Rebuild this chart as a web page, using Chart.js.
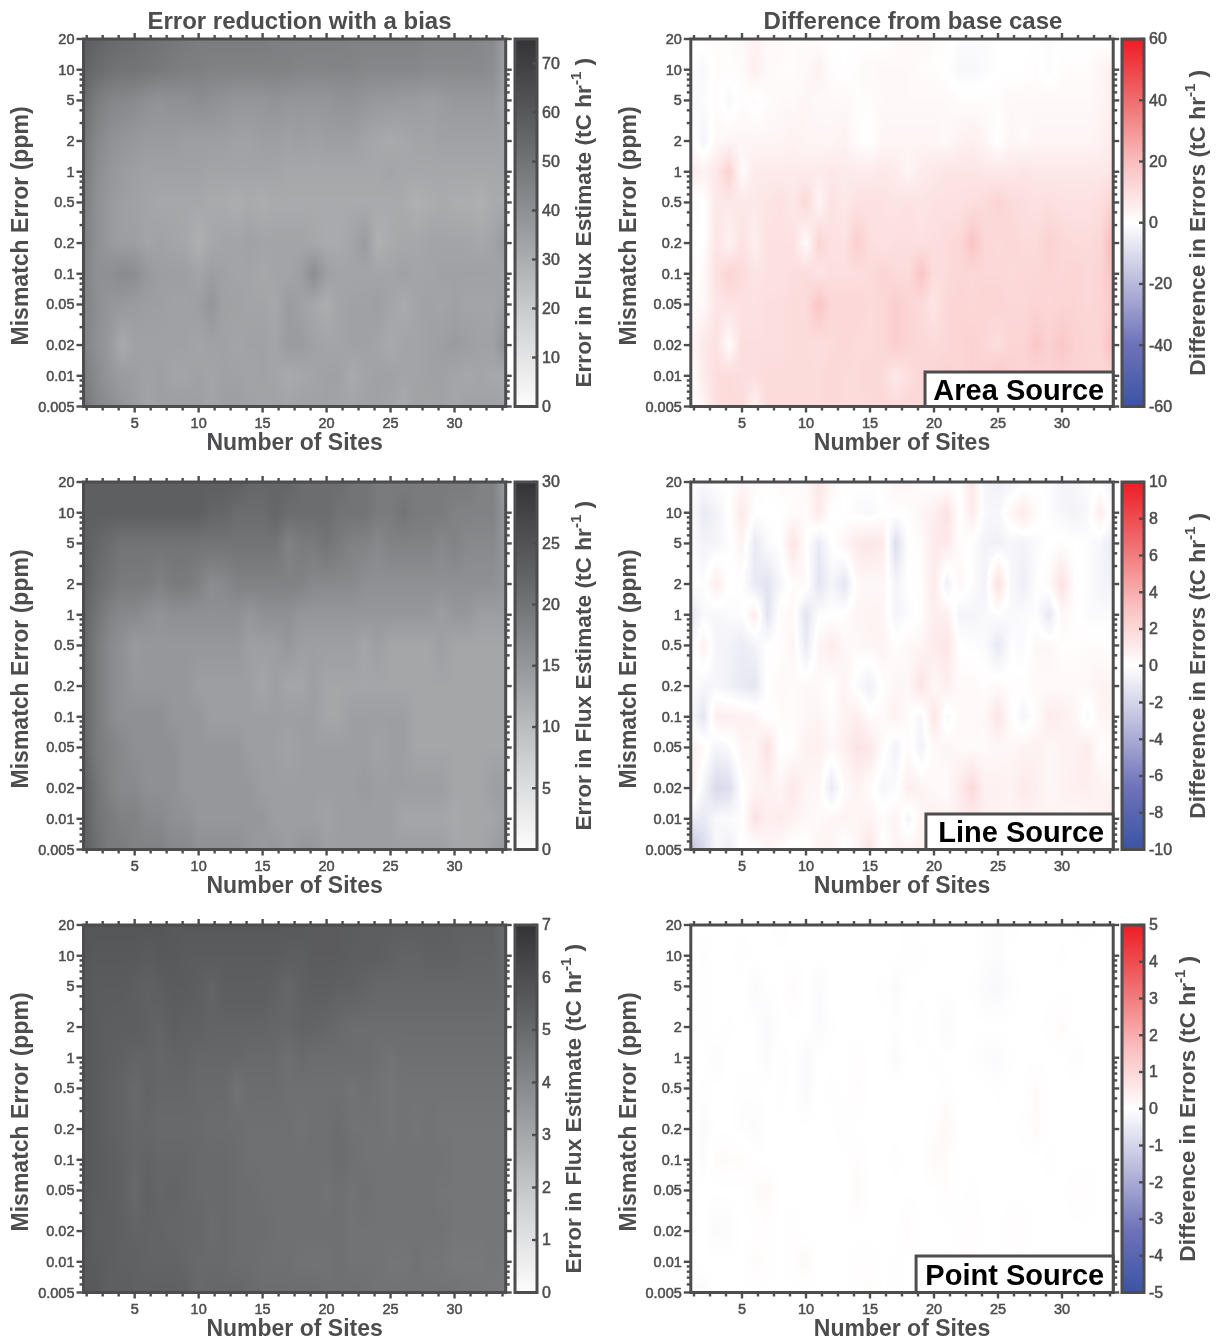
<!DOCTYPE html>
<html><head><meta charset="utf-8">
<style>html,body{margin:0;padding:0;background:#fff}#wrap{position:relative;width:1220px;height:1343px;overflow:hidden}canvas{position:absolute;display:block}</style>
<script src="https://cdn.jsdelivr.net/npm/chart.js@4"></script>
</head><body><div id="wrap"></div>
<script>
// ---- axes -------------------------------------------------------------
const sites = [1,2,3,4,5,6,7,8,9,10,11,12,13,14,15,16,17,18,19,20,21,22,23,24,25,26,27,28,29,30,31,32,33,34];
const mismatch = [20,10,5,2,1,0.5,0.2,0.1,0.05,0.02,0.01,0.005];
const xMajorTicks = [5,10,15,20,25,30];
const xMinorTicks = [1.25,2.5,3.75,6.25,7.5,8.75,11.25,12.5,13.75,16.25,17.5,18.75,21.25,22.5,23.75,26.25,27.5,28.75,31.25,32.5,33.75];
const yMinorTicks = [0.006,0.007,0.008,0.009,0.03,0.04,0.06,0.07,0.08,0.09,0.3,0.4,0.6,0.7,0.8,0.9,3,4,6,7,8,9];
const areaErrorTicks = [0,10,20,30,40,50,60,70];
const lineErrorTicks = [0,5,10,15,20,25,30];
const pointErrorTicks = [0,1,2,3,4,5,6,7];
const areaDiffTicks = [-60,-40,-20,0,20,40,60];
const lineDiffTicks = [-10,-8,-6,-4,-2,0,2,4,6,8,10];
const pointDiffTicks = [-5,-4,-3,-2,-1,0,1,2,3,4,5];

// ---- values, one row per mismatch error from 20 down to 0.005 -----------
const areaError = [
[58,56,54,53,52,51,50,49,48,47,47,47,47,47,47,46,46,46,46,46,46,45,45,45,45,45,45,44,44,44,44,43,42,34],
[56,53,51,50,50,49,48,47,46,46,45,45,45,45,45,45,45,44,44,44,44,44,43,43,43,43,43,42,42,42,42,42,41,34],
[53,47,44,43,42,40,39,40,40,41,40,39,38,38,38,39,38,38,38,38,39,39,38,37,37,36,36,35,36,37,37,37,37,33],
[49,43,40,38,37,36,36,36,35,35,35,35,34,34,35,35,34,35,34,35,35,35,33,32,31,32,33,33,34,34,34,34,34,33],
[48,41,38,36,35,34,34,34,34,34,33,33,33,33,33,33,32,32,32,32,32,32,32,32,33,32,32,32,32,32,32,32,32,32],
[47,40,37,35,34,33,32,32,32,32,31,31,30,31,30,31,31,31,31,31,31,31,31,31,31,31,29,30,31,30,30,29,31,31],
[46,40,37,35,35,33,34,33,32,29,32,33,33,34,33,33,33,33,32,31,31,33,36,29,31,32,32,33,33,33,33,32,33,37],
[45,40,40,42,41,37,35,35,35,33,35,34,33,33,32,33,33,35,41,35,33,33,33,33,33,34,33,33,34,34,34,34,34,33],
[45,41,38,37,36,35,35,34,34,35,38,34,34,33,33,32,36,34,32,30,33,34,34,35,33,31,33,34,33,34,33,33,33,35],
[45,40,37,31,34,34,34,34,34,33,34,34,33,34,34,33,36,36,34,33,33,34,34,33,31,33,33,34,35,36,35,34,34,40],
[47,42,38,36,35,34,35,33,33,34,33,34,34,33,34,33,31,32,33,34,34,31,33,34,34,33,33,34,34,33,32,33,32,31],
[50,44,41,38,36,33,35,35,35,35,33,35,35,34,33,34,33,34,34,34,33,33,34,34,33,31,34,33,34,32,34,34,34,33]];
const areaDiff = [
[0,1,1,1,2,4,2,2,1,1,1,0,0,0,0,0,1,2,2,1,1,-1,-1,-1,0,0,0,0,-1,0,0,0,0,-1],
[0,-2,1,1,1,5,2,1,1,2,4,1,0,1,2,2,2,2,1,1,0,-2,-2,-1,0,0,0,1,-1,1,1,1,3,5],
[-2,-1,1,-2,1,-1,1,2,2,3,2,2,2,1,1,2,2,2,2,2,2,1,1,1,1,2,2,2,2,2,2,2,3,5],
[1,-3,2,3,3,3,3,3,4,3,3,3,4,1,0,3,3,3,3,3,2,4,5,3,0,3,2,3,3,3,3,3,4,6],
[6,4,7,14,1,6,6,6,6,6,6,7,6,6,6,7,6,3,6,7,8,8,8,7,7,7,8,7,7,7,7,7,7,8],
[-1,0,7,7,7,7,8,9,7,12,3,9,7,9,9,9,8,9,8,9,9,9,10,11,13,11,10,9,10,9,9,9,10,13],
[0,0,8,4,9,5,9,9,9,1,13,9,9,15,10,9,10,10,9,10,11,12,18,12,11,12,11,11,14,12,11,11,12,22],
[-2,2,9,13,11,8,9,9,10,11,8,10,10,10,11,13,11,11,18,10,11,12,12,12,12,11,12,12,13,12,13,12,13,19],
[2,2,8,9,9,9,10,10,11,11,18,12,12,12,11,12,15,13,11,8,12,13,12,13,13,12,12,13,12,13,13,12,13,16],
[2,7,9,1,10,10,10,10,11,11,10,11,12,11,11,12,15,13,12,11,12,13,14,12,10,13,13,17,14,17,14,13,13,20],
[0,6,10,11,10,10,11,11,11,11,11,12,11,11,12,11,7,10,12,13,14,12,14,14,17,14,13,13,13,14,13,13,12,13],
[0,3,10,11,11,4,11,11,11,11,11,12,11,11,11,12,11,12,12,12,12,12,12,12,12,12,12,12,12,12,12,12,12,12]];
const lineError = [
[23,23,23,23,23,23,23,23,23,23,23,23,23,22,22,22,22,21,21,21,21,20,20,19,19,19,19,19,19,19,19,18,18,14],
[23,23,23,23,23,23,23,23,23,23,22,22,21,21,21,22,21,21,21,21,20,20,20,19,19,20,19,19,19,18,18,18,18,15],
[23,22,21,20,20,20,20,20,20,20,20,20,20,20,20,20,18,19,19,20,19,18,18,17,18,18,18,18,17,18,17,17,17,15],
[23,21,20,19,19,19,18,19,19,18,16.5,17,18,18,18,18,18,18,17,17,17,17,16,16,16,16,16,16,16,16,16,16,16,15],
[22,20,18,17,17,16,15.5,16,16,16,16,16,16,15,16,16,16,15,15,15,15,15,15,15,15,15,15,15,14,15,15,14,14,14],
[22,19,17,16,14.5,15,15,15,15,15,15,15,15,14,14,14,15,14,14,14,14,14,13,14,13,13,13,13,14,13,13,13,13,13],
[22,19,17,16,15,15,15,15,15,14,14,14,14,14,13,14,13,13,14,13,13,13,13,13,13,13,13,13,13,13,13,13,13,13],
[22,19,17,16,16,16,16,15,15,15,14,14,14,14,14,14,14,14,14,13,13,14,14,14,14,14,13,13,13,13,13,13,13,13],
[22,19,18,17,16,16,16,16,15,15,15,15,15,14,14,14,13.5,14,14,14,14,14,14,13.5,14,14,13,13,13,13,13,13,13,13],
[23,20,18,17,17,16,16,16,15,15,15,15,15,15,14,14,14,14,14,14,14,14,14.5,14,14,14,14,14,14,13,13,13,14,14],
[23,20,19,18,18,17,17,16,16,15,15,15,15,15,15,14,14,14,14,13.5,14,14,14,14,14,13,13,13,13,12.5,13,13,13,14],
[23,21,19,19,18,18,18,17,17,16,16,16,16,15,14.5,15,14,15,15,14,14,14,14,14,14,14,14,14,14,13,13,13,14,15]];
const lineDiff = [
[0,-0.3,0,0,0.4,0.3,0,0.3,0.2,0.3,1.2,0.5,0,0,0,0.1,0.5,0.5,0.1,0,0,0,1.2,-0.5,-0.7,-0.5,-0.2,0,-0.1,-0.6,-0.4,-0.2,-0.2,-0.7],
[-0.1,-1,-0.6,0,1.1,0,0,0,0.2,0.2,1.1,0,0,-0.2,-0.3,0,0.1,0.1,0.5,0.8,1.5,0,1,-0.3,-0.4,0.4,1.1,0.2,-0.1,-0.4,-0.6,-0.3,0.9,-0.2],
[-0.1,-0.6,-0.5,-0.1,0.6,-1,-0.2,0,1.4,0.1,-1,0,0.5,1.1,1.3,1,-1.6,0,0.2,1.1,1.1,0.2,-0.1,-0.6,-0.7,-0.4,-0.6,-0.2,0,0.1,0,-0.1,-0.4,-1],
[0,-0.1,0.9,0,0,-1,-1.3,-0.4,0.2,0.3,-1.3,-0.5,-1.2,0.3,0.4,0.4,-0.5,0,0.1,1.1,-0.7,0.4,-0.1,-0.6,1.6,-0.3,-0.8,-0.1,0.3,1.5,0.1,-0.1,-0.5,-0.7],
[-1.1,-0.3,-0.4,-0.2,-0.1,0.9,-1.3,0.2,0.3,-1.3,-0.1,0,0.1,0.5,0.6,0.5,-0.5,-0.2,0.1,0.9,0.8,-0.5,-0.5,-0.3,-0.1,-0.3,-0.2,-0.1,-1.1,0.4,0.1,-0.2,-0.2,-0.2],
[-0.4,0.7,-0.5,-0.6,-0.9,-0.6,0,0.1,0.5,-1,0.5,1,0.4,0.3,0.5,0.6,0.1,0.4,0.5,1,1.3,0,-0.1,-0.2,-1.1,-0.1,-0.2,0.4,0.4,0.1,0.1,0.2,0.2,-0.1],
[0,-0.4,-0.4,-0.7,-1,-1.2,0.1,0.3,0.2,0.4,0.3,0,0.6,-0.2,-0.7,0.1,0.5,0.4,1.4,0.4,0.8,0.3,0.3,0.1,0.3,0.1,0.1,0.3,0.3,0.3,0.3,0.4,0.6,0.6],
[-0.4,-1.2,0.9,0.8,0.7,0.6,-0.1,0.2,0.2,0.4,0.5,0.2,0.6,0.9,0.2,0.3,0.7,0.2,-0.4,1.3,-0.3,0.3,0.3,0.4,1.4,0.2,-0.5,0.2,1,0.8,0.5,-0.3,0.5,0.6],
[0.8,0.3,-0.5,-0.2,0.5,0.5,1.5,0,0.1,0.7,0.8,0.4,0.8,1.4,1.2,0.2,-0.6,0.2,-0.6,0.3,0.5,0.3,0.2,0.3,0.4,0.4,0.6,0.7,0.4,0.6,0.7,1,0.1,0.3],
[0.9,-0.5,-1.8,-1.6,0,0.6,0.7,0.5,1.2,0.5,0.4,-1,0.2,0.6,0.2,-0.4,-0.2,0.9,0.6,0.3,0.2,1,1.9,0.7,0.7,0.6,1.1,0.8,0.4,0.6,0.8,0.8,0.6,0.6],
[-0.9,-1,-0.3,-0.2,-0.1,1.5,0.8,1,0.7,0.4,0.3,0.5,0.6,0.5,0.6,0.2,0.6,-0.5,0.5,0.8,0.6,0.9,1,0.8,0.7,0.5,0.7,0.6,0.6,0.5,0.3,0.5,0.7,1],
[-3,-1.8,-0.4,-0.8,0.1,-0.1,0.5,0.2,-0.2,-0.1,0.6,0.5,-0.1,0.5,1.4,-0.1,0.6,0.6,0.7,0.5,0.6,0.5,0.6,0.6,0.6,0.5,0.5,0.5,0.5,0.5,0.5,0.5,0.5,0.5]];
const pointError = [
[5.7,5.7,5.7,5.7,5.7,5.7,5.7,5.6,5.6,5.6,5.6,5.6,5.6,5.6,5.6,5.6,5.6,5.6,5.5,5.5,5.5,5.5,5.4,5.4,5.4,5.4,5.4,5.4,5.4,5.3,5.3,5.3,5.3,4.9],
[5.7,5.6,5.6,5.6,5.6,5.5,5.6,5.6,5.5,5.5,5.5,5.5,5.5,5.5,5.5,5.5,5.4,5.4,5.5,5.5,5.5,5.4,5.4,5.4,5.3,5.2,5.2,5.3,5.3,5.3,5.2,5.2,5.2,5],
[5.6,5.5,5.5,5.5,5.4,5.3,5.4,5.5,5.5,5.4,5.2,5.4,5.4,5.4,5.4,5.3,5.1,5.3,5.4,5.4,5.3,5.3,5.2,5.1,5.1,5.1,5.1,5.1,5.1,5.1,5.1,5.1,5.1,5],
[5.6,5.5,5.4,5.4,5.4,5.3,5.2,5.4,5.3,5.3,5.2,5.2,5.2,5.2,5.2,5.1,5.1,5.2,5.2,5.1,5,4.9,4.9,4.9,4.9,4.9,4.9,4.9,4.9,4.9,4.9,4.9,4.9,4.9],
[5.6,5.5,5.4,5.3,5.2,5.2,5.1,5.2,5.2,5.1,5.1,5.1,5.1,5,5,5,4.8,5,4.9,4.9,4.9,4.9,4.9,4.8,4.7,4.8,4.8,4.8,4.8,4.8,4.8,4.8,4.8,4.8],
[5.6,5.5,5.3,5.2,5,5.2,5.1,5.1,5.1,5,5,5,4.7,4.9,4.9,4.9,4.8,4.8,4.8,4.8,4.8,4.7,4.8,4.7,4.6,4.7,4.7,4.7,4.7,4.7,4.7,4.7,4.7,4.7],
[5.6,5.5,5.3,5.2,5.1,5.1,5,5,5,5,4.9,4.9,4.9,4.8,4.8,4.8,4.8,4.7,4.8,4.8,4.9,4.7,4.7,4.7,4.6,4.7,4.6,4.7,4.6,4.6,4.6,4.6,4.6,4.6],
[5.6,5.5,5.4,5.3,5.1,5.2,5.1,5.1,5.1,5,5,5,4.9,4.8,4.8,4.8,4.8,4.8,4.8,4.8,4.9,4.8,4.7,4.7,4.7,4.7,4.7,4.7,4.7,4.6,4.6,4.6,4.6,4.6],
[5.6,5.5,5.4,5.3,5,5.3,5.1,5.2,5.1,5,5,5,4.9,4.9,4.8,4.8,4.8,4.8,4.8,4.7,4.8,4.7,4.8,4.7,4.7,4.7,4.7,4.7,4.6,4.6,4.6,4.6,4.6,4.6],
[5.7,5.4,5.4,5.3,5.2,5.2,5.2,5.1,5.1,5.1,4.9,5,4.9,4.9,4.9,4.8,4.8,4.8,4.8,4.8,4.8,4.7,4.7,4.7,4.7,4.7,4.7,4.7,4.7,4.6,4.6,4.6,4.6,4.6],
[5.6,5.5,5.4,5.3,5.3,5.2,5.2,5.2,5.1,5,5,5,4.9,4.9,4.8,4.8,4.8,4.7,4.7,4.7,4.8,4.7,4.7,4.7,4.6,4.6,4.7,4.6,4.6,4.5,4.5,4.5,4.6,4.5],
[5.6,5.6,5.3,5.4,5.3,5.3,5.3,5.3,5.3,5,5.1,5.1,5.1,5,4.9,4.9,4.9,4.9,4.9,4.8,4.8,4.8,4.8,4.7,4.7,4.7,4.7,4.7,4.7,4.7,4.6,4.6,4.5,4.5]];
const pointDiff = [
[0,0,0,0,0,0,0,-0.05,0,0,0,0,0,0,0,0,0,-0.03,0,0,0,0,0,-0.05,-0.08,-0.04,0,0,0,0,-0.02,-0.03,0,0],
[0,-0.05,0,0,0.05,0,0,0,0,0,0,0,0,0,0,0,0,-0.03,-0.03,0,0,0,0,-0.04,-0.08,0,0,0,0,-0.02,0,0,0,0],
[0,-0.03,0,0,0,-0.1,-0.02,0,0.1,0,-0.1,0,0,0,0,0.03,-0.1,0,0,0,0,0,-0.02,-0.1,-0.15,-0.05,0,0,0,0,0,0,0,-0.03],
[0,-0.03,0,-0.02,0,-0.02,-0.12,-0.02,0,0,-0.1,-0.02,0,0,0,0,-0.03,0,0.05,-0.02,-0.1,0,0,0,0,0,0,0,0.03,0.12,0,0,0,-0.1],
[0,0,-0.07,0,0,0,-0.1,0.05,0,-0.12,0,0,0,0.05,0,0,-0.1,0,0,0.03,0,0,-0.02,-0.07,-0.1,-0.02,0,0,0,0,-0.06,0,0,-0.02],
[0,-0.02,0,0,-0.03,-0.02,0,0.03,0,-0.12,0,0.03,0,0.08,0,0,0,0,0,0,0.03,0,0,0,-0.02,0,0,0.12,0,0,0,0,0,0],
[0,-0.1,0,0,-0.05,-0.08,0,0,0,0,0,0,0.05,0,0,0,0,0,0,0.05,0.2,0,0,0,0,0,0.03,0.12,0,0,0,0,0,0],
[0,-0.08,0.12,0.1,0.1,0,-0.01,0,0,0,0,0,0,0.08,0,0,0.03,0,-0.01,0.15,0.08,0,0,0,0,0,0,0,-0.03,0,0,0,0,0],
[0,0,0,0,0,0.1,0.15,0,0,0,0,0,0,0.15,0,0,0,0,0,0,0.08,0,0.03,0,0,0,0,0,0,0,0.05,0.06,0,0.05],
[0,0,-0.1,-0.08,0,0,0.05,0,0.05,0,0,0,0,0,0,0,-0.01,0.1,0,0,0,0.03,0.05,0,0,0.05,0.06,0,0,0,0,0,0,0.03],
[0,0,0,0,0,0.12,0.05,0,0.05,0.15,0,0,0,0.05,0.05,0,0.03,0,0,0,0,0.06,0.04,0,0,0.03,0.05,0,0,0,0,0,0,0],
[-0.1,-0.08,0,0,0,0,0,0,0,0,0,0,0,0.05,0.08,0,0.05,0,0,0,0,0,0,0,0,0,0,0,0,0,0,0,0,0]];

// ---- colour ramps -------------------------------------------------------
const grayRamp = [[0,[253,253,253]],[0.25,[205,206,208]],[0.5,[150,151,154]],[0.75,[97,98,100]],[1,[52,52,54]]];
const divRamp = [[0,[59,84,164]],[0.17,[110,115,185]],[0.335,[185,185,220]],[0.5,[255,255,255]],[0.665,[250,190,190]],[0.83,[240,110,112]],[1,[237,28,36]]];
function rampAt(ramp,f){
  f=Math.max(0,Math.min(1,f));
  for(let i=1;i<ramp.length;i++){
    if(f<=ramp[i][0]){
      const a=ramp[i-1],b=ramp[i],t=(f-a[0])/(b[0]-a[0]);
      return [0,1,2].map(k=>a[1][k]+(b[1][k]-a[1][k])*t);
    }
  }
  return ramp[ramp.length-1][1];
}
const INK='#4d4d4f';
const FACE='"Liberation Sans",Arial,sans-serif';

// Surface: paints each pixel of the plot from the dataset through the scales.
const surfacePlugin={
  id:'surface',
  beforeDatasetsDraw(chart,args,o){
    const xs=chart.scales.x,ys=chart.scales.y,a=chart.chartArea,ctx=chart.ctx;
    const L=Math.floor(a.left),T=Math.floor(a.top),W=Math.ceil(a.right)-L,H=Math.ceil(a.bottom)-T;
    const off=document.createElement('canvas');off.width=W;off.height=H;
    const oc=off.getContext('2d'),img=oc.createImageData(W,H);
    const rows=o.rows,ly=mismatch.map(Math.log);
    const rowT=[];
    for(let py=0;py<H;py++){
      const v=Math.log(Math.max(0.005,Math.min(20,ys.getValueForPixel(T+py+0.5))));
      let i=0;while(i<ly.length-2&&v<ly[i+1])i++;
      rowT.push([i,(v-ly[i])/(ly[i+1]-ly[i])]);
    }
    for(let px=0;px<W;px++){
      const v=Math.max(1,Math.min(34,xs.getValueForPixel(L+px+0.5)));
      let j=Math.min(32,Math.floor(v-1));const u=v-1-j;
      for(let py=0;py<H;py++){
        const [i,t]=rowT[py];
        const val=(rows[i][j]*(1-u)+rows[i][j+1]*u)*(1-t)+(rows[i+1][j]*(1-u)+rows[i+1][j+1]*u)*t;
        const c=rampAt(o.ramp,o.lo===0?val/o.hi:(val-o.lo)/(o.hi-o.lo));
        const p=(py*W+px)*4;img.data[p]=c[0];img.data[p+1]=c[1];img.data[p+2]=c[2];img.data[p+3]=255;
      }
    }
    oc.putImageData(img,0,0);ctx.drawImage(off,L,T);
  }
};
// Frame, mirrored major/minor ticks and the source label box.
const framePlugin={
  id:'frame',
  afterDraw(chart,args,o){
    const ctx=chart.ctx,a=chart.chartArea,xs=chart.scales.x,ys=chart.scales.y;
    ctx.save();ctx.strokeStyle=INK;
    ctx.lineWidth=2.4;
    const tick=(x0,y0,x1,y1)=>{ctx.beginPath();ctx.moveTo(x0,y0);ctx.lineTo(x1,y1);ctx.stroke();};
    xMajorTicks.forEach(v=>{const p=xs.getPixelForValue(v);tick(p,a.top,p,a.top-6);tick(p,a.bottom,p,a.bottom+6);});
    xMinorTicks.forEach(v=>{const p=xs.getPixelForValue(v);tick(p,a.top,p,a.top-4);tick(p,a.bottom,p,a.bottom+4);});
    mismatch.forEach(v=>{const p=ys.getPixelForValue(v);tick(a.left,p,a.left-7,p);tick(a.right,p,a.right+6,p);});
    yMinorTicks.forEach(v=>{const p=ys.getPixelForValue(v);tick(a.left,p,a.left-4,p);tick(a.right,p,a.right+4,p);});
    ctx.lineWidth=3;ctx.strokeRect(a.left,a.top,a.right-a.left,a.bottom-a.top);
    if(o.label){
      const bx=xs.getPixelForValue(o.fromSite),by=a.bottom-o.boxHeight;
      ctx.fillStyle='#fff';ctx.fillRect(bx,by,a.right-bx,o.boxHeight);
      ctx.strokeRect(bx,by,a.right-bx,o.boxHeight);
      ctx.fillStyle='#000';ctx.font='bold 29px '+FACE;ctx.textAlign='right';ctx.textBaseline='middle';
      ctx.fillText(o.label,a.right-9,by+o.boxHeight/2+2.5);
    }
    ctx.restore();
  }
};
// Colour-bar frame, inward ticks and upward-reading title with a superscript.
const barPlugin={
  id:'barDecor',
  afterDraw(chart,args,o){
    const ctx=chart.ctx,a=chart.chartArea,ys=chart.scales.y;
    ctx.save();ctx.strokeStyle=INK;ctx.lineWidth=2.4;
    o.ticks.forEach(v=>{const p=ys.getPixelForValue(v);ctx.beginPath();ctx.moveTo(a.right-5,p);ctx.lineTo(a.right,p);ctx.stroke();});
    ctx.lineWidth=3;ctx.strokeRect(a.left,a.top,a.right-a.left,a.bottom-a.top);
    ctx.translate(o.titleX,(a.top+a.bottom)/2);ctx.rotate(-Math.PI/2);
    ctx.fillStyle=INK;ctx.textBaseline='alphabetic';ctx.textAlign='left';
    const f1='bold 22.7px '+FACE,f2='bold 15px '+FACE;
    ctx.font=f1;const w1=ctx.measureText(o.title+' (tC hr').width,w3=ctx.measureText(' )').width;
    ctx.font=f2;const w2=ctx.measureText('-1').width;
    const s=-(w1+w2+w3)/2;
    ctx.font=f1;ctx.fillText(o.title+' (tC hr',s,8);ctx.fillText(' )',s+w1+w2,8);
    ctx.font=f2;ctx.fillText('-1',s+w1,-2);
    ctx.restore();
  }
};

const tickFont={family:FACE,size:14.5,weight:'normal'};
const labelFont={family:FACE,size:23,weight:'bold'};
const wrap=document.getElementById('wrap');
function addCanvas(l,t,w,h){const c=document.createElement('canvas');c.width=w;c.height=h;c.style.left=l+'px';c.style.top=t+'px';c.style.width=w+'px';c.style.height=h+'px';wrap.appendChild(c);return c;}

function heatChart(cfg){
  const c=addCanvas(cfg.left,cfg.top,cfg.width,458);
  const pts=[];mismatch.forEach((m,i)=>sites.forEach((s,j)=>pts.push({x:s,y:m,v:cfg.rows[i][j]})));
  new Chart(c,{
    type:'scatter',
    data:{datasets:[{data:pts,pointRadius:0,pointHoverRadius:0,showLine:false}]},
    plugins:[surfacePlugin,framePlugin],
    options:{
      responsive:false,animation:false,devicePixelRatio:1,events:[],
      layout:{padding:{top:cfg.title?0:39,left:0,right:0,bottom:0}},
      plugins:{
        legend:{display:false},tooltip:{enabled:false},
        title:{display:!!cfg.title,text:cfg.title,color:INK,font:{family:FACE,size:24,weight:'bold',lineHeight:1.2},padding:{top:8,bottom:2.2}},
        surface:{rows:cfg.rows,ramp:cfg.ramp,lo:cfg.lo,hi:cfg.hi},
        frame:{label:cfg.label,fromSite:cfg.fromSite,boxHeight:cfg.boxHeight}
      },
      scales:{
        x:{type:'linear',position:'bottom',min:1,max:34,bounds:'data',offset:false,
          afterBuildTicks:s=>{s.ticks=xMajorTicks.map(v=>({value:v}));},
          afterFit:s=>{s.height=51.5;},
          grid:{display:false,drawTicks:false},border:{display:false},
          ticks:{autoSkip:false,maxRotation:0,padding:9,color:INK,font:tickFont,textStrokeColor:INK,textStrokeWidth:0.5,callback:v=>String(v)},
          title:{display:true,text:'Number of Sites',color:INK,font:{...labelFont,lineHeight:1.2},padding:{top:0,bottom:0.2}}},
        y:{type:'logarithmic',position:'left',min:0.005,max:20,bounds:'data',
          afterBuildTicks:s=>{s.ticks=mismatch.map(v=>({value:v}));},
          afterFit:s=>{s.width=cfg.yWidth;},
          grid:{display:false,drawTicks:false},border:{display:false},
          ticks:{autoSkip:false,padding:9,labelOffset:1,color:INK,font:tickFont,textStrokeColor:INK,textStrokeWidth:0.5,callback:v=>String(v)},
          title:{display:true,text:'Mismatch Error (ppm) ',color:INK,font:{...labelFont,lineHeight:1.2},padding:{top:cfg.yTitlePad,bottom:0}}},
        yMirror:{type:'logarithmic',position:'right',min:0.005,max:20,bounds:'data',
          afterFit:s=>{s.width=cfg.width-(cfg.plotRight-cfg.left);},
          grid:{display:false,drawTicks:false},border:{display:false},ticks:{display:false}}
      }
    }
  });
}
function barChart(cfg){
  const c=addCanvas(cfg.left,cfg.top,100,458);
  new Chart(c,{
    type:'bar',
    data:{labels:[''],datasets:[{data:[[cfg.lo,cfg.hi]],barPercentage:1,categoryPercentage:1,borderSkipped:false,borderWidth:0,
      backgroundColor:ctx=>{
        const ch=ctx.chart;if(!ch.chartArea)return '#888';
        const g=ch.ctx.createLinearGradient(0,ch.chartArea.bottom,0,ch.chartArea.top);
        cfg.ramp.forEach(s=>g.addColorStop(s[0],'rgb('+s[1].map(Math.round).join(',')+')'));
        return g;
      }}]},
    plugins:[barPlugin],
    options:{
      responsive:false,animation:false,devicePixelRatio:1,events:[],
      layout:{padding:{top:39,left:5,right:0,bottom:51.5}},
      plugins:{legend:{display:false},tooltip:{enabled:false},barDecor:{ticks:cfg.ticks,title:cfg.title,titleX:cfg.titleX-cfg.left}},
      scales:{
        x:{type:'category',display:false,offset:true},
        y:{type:'linear',position:'right',min:cfg.lo,max:cfg.hi,bounds:'data',
          afterBuildTicks:s=>{s.ticks=cfg.ticks.map(v=>({value:v}));},
          afterFit:s=>{s.width=100-5-cfg.barW;},
          grid:{display:false,drawTicks:false},border:{display:false},
          ticks:{autoSkip:false,padding:5,labelOffset:1,color:INK,font:{family:FACE,size:16,weight:'normal'},textStrokeColor:INK,textStrokeWidth:0.5,callback:v=>String(v)}}
      }
    }
  });
}
const rowTops=[0,443,886];
const leftRows=[areaError,lineError,pointError];
const leftMax=[75,30,7];
const leftTicks=[areaErrorTicks,lineErrorTicks,pointErrorTicks];
const rightRows=[areaDiff,lineDiff,pointDiff];
const rightMax=[60,10,5];
const rightTicks=[areaDiffTicks,lineDiffTicks,pointDiffTicks];
const sourceLabels=['Area Source','Line Source','Point Source'];
const labelFromSite=[19.3,19.37,18.6];
const labelBoxH=[34.5,35.5,36.5];
const leftBarTitleX=[583,583,573];
const rightBarTitleX=[1197,1197,1187];
for(let r=0;r<3;r++){
  heatChart({left:0,top:rowTops[r],width:599,plotRight:505.7,yWidth:83.5,yTitlePad:8,rows:leftRows[r],ramp:grayRamp,lo:0,hi:leftMax[r],title:r===0?'Error reduction with a bias':''});
  barChart({left:510,top:rowTops[r],lo:0,hi:leftMax[r],ticks:leftTicks[r],ramp:grayRamp,barW:22,title:'Error in Flux Estimate',titleX:leftBarTitleX[r]});
  heatChart({left:610,top:rowTops[r],width:606,plotRight:1113.2,yWidth:80.8,yTitlePad:5.5,rows:rightRows[r],ramp:divRamp,lo:-rightMax[r],hi:rightMax[r],title:r===0?'Difference from base case':'',label:sourceLabels[r],fromSite:labelFromSite[r],boxHeight:labelBoxH[r]});
  barChart({left:1117,top:rowTops[r],lo:-rightMax[r],hi:rightMax[r],ticks:rightTicks[r],ramp:divRamp,barW:22,title:'Difference in Errors',titleX:rightBarTitleX[r]});
}
</script></body></html>
